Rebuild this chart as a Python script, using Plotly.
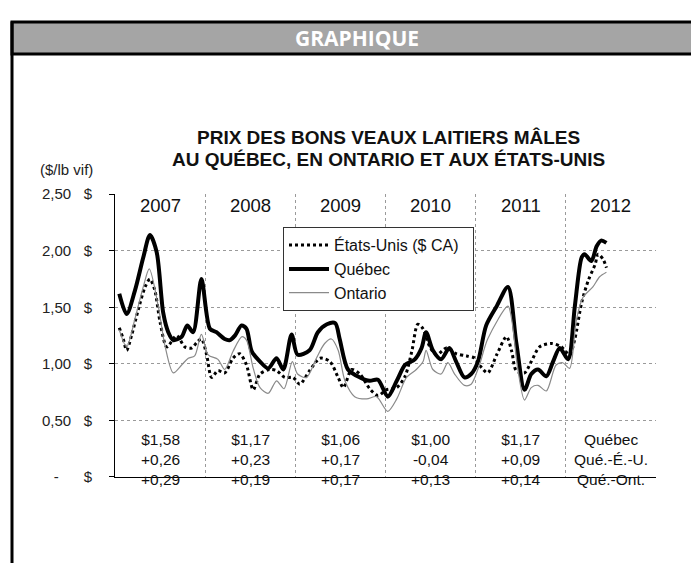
import plotly.graph_objects as go

# ---- data (months since Jan 2007) ----
us_x = [0.57,1.1,1.55,2.2,3.1,4.0,4.65,5.3,6.0,6.9,8.2,9.3,10.2,10.9,11.5,12.2,12.85,13.7,14.6,15.7,
        16.6,17.5,18.4,19.3,20.6,21.5,22.6,23.7,24.6,25.9,27.3,28.6,29.7,30.4,31.5,32.6,33.9,35.0,36.1,37.5,
        38.6,39.5,40.3,41.0,41.9,42.8,44.1,45.4,46.8,47.9,48.5,49.6,50.8,52.1,52.8,53.4,54.5,55.4,56.5,58.1,
        59.4,60.5,61.2,62.1,63.0,63.9,64.3,65.0,65.4]
us_y = [1.32,1.22,1.12,1.25,1.48,1.68,1.75,1.65,1.37,1.15,1.25,1.15,1.14,1.19,1.22,1.08,0.88,0.94,0.92,1.05,
        1.09,0.99,0.77,0.91,0.95,0.94,0.88,0.88,0.82,0.94,1.05,1.02,0.88,0.79,0.95,0.91,0.78,0.72,0.77,0.79,
        0.89,1.11,1.35,1.31,1.15,1.08,1.14,1.09,1.07,1.05,0.99,0.92,1.08,1.24,1.11,0.94,0.92,1.02,1.15,1.18,
        1.15,1.08,1.22,1.54,1.74,1.88,1.97,1.92,1.85]

qc_x = [0.57,1.55,2.66,3.76,4.65,5.54,6.42,7.09,7.75,8.87,9.62,10.4,11.5,12.63,13.5,14.6,15.3,15.96,16.85,17.5,
        18.2,19.3,20.4,21.5,22.4,23.5,24.3,25.9,27.0,28.2,29.3,29.9,31.0,32.6,33.9,35.0,36.3,37.5,38.6,39.9,
        40.8,41.4,42.3,43.4,44.5,45.4,46.5,47.4,48.3,49.4,50.8,52.3,53.4,54.5,55.4,56.3,57.4,58.3,59.2,60.3,
        61.2,62.1,62.5,63.4,64.1,64.7,65.4]
qc_y = [1.62,1.44,1.65,1.94,2.14,1.99,1.45,1.28,1.21,1.24,1.34,1.28,1.75,1.31,1.28,1.22,1.21,1.25,1.34,1.31,
        1.11,1.02,0.96,1.05,0.95,1.26,1.08,1.12,1.28,1.35,1.36,1.22,0.95,0.88,0.85,0.86,0.71,0.85,0.99,1.04,
        1.14,1.28,1.12,1.04,1.14,1.02,0.88,0.91,1.02,1.34,1.51,1.68,1.19,0.77,0.91,0.95,0.89,1.02,1.14,1.04,
        1.51,1.94,1.97,1.91,2.04,2.09,2.07]

on_x = [0.57,1.55,2.66,3.76,4.56,5.76,6.65,7.75,8.87,9.75,10.6,11.5,12.4,13.7,14.6,15.7,16.9,17.5,18.4,19.3,
        20.4,21.5,22.5,23.6,24.3,25.5,26.8,27.9,28.8,29.7,30.6,31.9,33.5,34.8,36.3,37.5,38.8,40.1,41.0,41.4,
        42.3,43.4,44.3,45.2,46.5,47.4,48.5,49.6,52.3,52.8,53.6,54.5,55.4,56.3,57.4,58.7,59.6,60.5,61.4,62.3,
        63.6,64.5,65.4]
on_y = [1.30,1.15,1.40,1.68,1.84,1.51,1.16,0.92,0.99,1.05,1.07,1.26,1.08,1.04,0.95,1.11,1.24,1.21,0.96,0.79,
        0.74,0.85,0.78,1.02,0.91,0.88,1.05,1.18,1.22,1.12,0.85,0.71,0.69,0.71,0.58,0.69,0.88,0.95,1.02,1.12,
        0.95,0.91,1.01,0.91,0.81,0.82,0.99,1.22,1.51,1.39,0.96,0.68,0.79,0.81,0.76,0.99,1.01,0.96,1.39,1.59,
        1.68,1.77,1.81]

years = ["2007", "2008", "2009", "2010", "2011", "2012"]
year_centers = [6, 18, 30, 42, 54, 66]
row_quebec = ["$1,58", "$1,17", "$1,06", "$1,00", "$1,17", "Québec"]
row_que_us = ["+0,26", "+0,23", "+0,17", "-0,04", "+0,09", "Qué.-É.-U."]
row_que_ont = ["+0,29", "+0,19", "+0,17", "+0,13", "+0,14", "Qué.-Ont."]

title_lines = ["PRIX DES BONS VEAUX LAITIERS MÂLES", "AU QUÉBEC, EN ONTARIO ET AUX ÉTATS-UNIS"]

ytick_vals = [0, 0.5, 1.0, 1.5, 2.0, 2.5]
ytick_text = ["-\u00a0\u00a0\u00a0\u00a0\u00a0\u00a0$", "0,50\u00a0\u00a0\u00a0$", "1,00\u00a0\u00a0\u00a0$",
              "1,50\u00a0\u00a0\u00a0$", "2,00\u00a0\u00a0\u00a0$", "2,50\u00a0\u00a0\u00a0$"]

W, H = 691, 563
FONT = "Liberation Sans, Arial, sans-serif"

def px(x):
    return x / W

def py(y):
    return 1 - y / H

fig = go.Figure()
fig.add_trace(go.Scatter(x=us_x, y=us_y, mode="lines", name="États-Unis ($ CA)\u00a0\u00a0",
                         line=dict(color="black", width=3, dash="dot", shape="spline", smoothing=0.8)))
fig.add_trace(go.Scatter(x=qc_x, y=qc_y, mode="lines", name="Québec",
                         line=dict(color="black", width=4, shape="spline", smoothing=0.8)))
fig.add_trace(go.Scatter(x=on_x, y=on_y, mode="lines", name="Ontario",
                         line=dict(color="#8a8a8a", width=1.2, shape="spline", smoothing=0.8)))

annotations = []
for c, yr in zip(year_centers, years):
    annotations.append(dict(x=c, y=2.40, xref="x", yref="y", text=yr, showarrow=False,
                            font=dict(family=FONT, size=18.5, color="#111")))
for c, a, b, d in zip(year_centers, row_quebec, row_que_us, row_que_ont):
    annotations.append(dict(x=c, y=0.155, xref="x", yref="y", text=f"{a}<br>{b}<br>{d}", showarrow=False,
                            yanchor="middle", align="center",
                            font=dict(family=FONT, size=15.5, color="#111")))
for line_text, ypix in zip(title_lines, [133, 155]):
    annotations.append(dict(x=px(388), y=py(ypix), xref="paper", yref="paper", xanchor="center",
                            text=f"<b>{line_text}</b>", showarrow=False, yanchor="middle",
                            font=dict(family=FONT, size=19, color="#111")))
annotations.append(dict(x=px(66), y=py(166), xref="paper", yref="paper", text="($/lb vif)",
                        showarrow=False, xanchor="center", yanchor="middle",
                        font=dict(family=FONT, size=15, color="#222")))
annotations.append(dict(x=px(357), y=py(30), xref="paper", yref="paper", text="<b>GRAPHIQUE</b>",
                        showarrow=False, xanchor="center", yanchor="middle",
                        font=dict(family="Open Sans, sans-serif", size=21, color="white")))

shapes = [
    dict(type="rect", xref="paper", yref="paper", x0=px(12), x1=1.02, y0=py(46.5), y1=py(13.5),
         fillcolor="#a5a5a5", line=dict(color="black", width=3), layer="below"),
    dict(type="line", xref="paper", yref="paper", x0=px(12), x1=px(12), y0=py(13), y1=-0.02,
         line=dict(color="black", width=3)),
]

fig.update_layout(
    width=W, height=H,
    margin=dict(l=0, r=0, t=0, b=0),
    paper_bgcolor="white", plot_bgcolor="white",
    showlegend=True,
    legend=dict(x=px(283), y=py(225), xanchor="left", yanchor="top",
                bgcolor="white", bordercolor="#333", borderwidth=1,
                font=dict(family=FONT, size=16, color="#111"),
                itemwidth=40, tracegroupgap=0),
    xaxis=dict(domain=[px(115), px(656)], range=[0, 72], tickvals=[12, 24, 36, 48, 60, 72],
               showticklabels=False, ticks="", showgrid=True, gridcolor="#9a9a9a", griddash="dot",
               gridwidth=1, showline=True, linecolor="black", linewidth=1, zeroline=False),
    yaxis=dict(domain=[py(482.5), py(191)], range=[0, 2.5], tickvals=ytick_vals, ticktext=ytick_text,
               ticks="outside", ticklen=5, tickcolor="black", showgrid=True, gridcolor="#9a9a9a",
               griddash="dot", gridwidth=1, showline=True, linecolor="black", linewidth=1,
               zeroline=False, ticklabelstandoff=14,
               tickfont=dict(family=FONT, size=15, color="#222")),
    annotations=annotations,
    shapes=shapes,
)

fig.write_html("out.html", config={"displayModeBar": False},
               post_script="document.body.style.margin='0';document.body.style.overflow='hidden';")
